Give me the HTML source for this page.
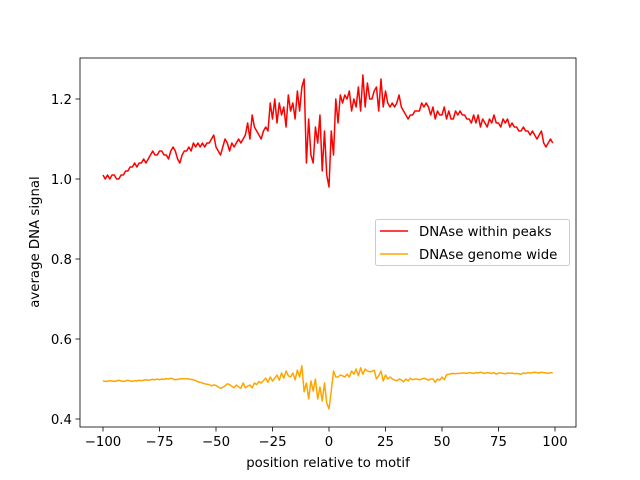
<!DOCTYPE html>
<html><head><meta charset="utf-8"><style>body{margin:0;background:#fff}svg{display:block;font-family:"DejaVu Sans","Liberation Sans",sans-serif}</style></head>
<body>
<svg id="chart" width="640" height="480">
<rect width="640" height="480" fill="#fff"/>
<g id="plot"></g>
</svg>
<script>
const xStart = -100;
const redVals = [1.01,1.00,1.01,1.00,1.01,1.01,1.00,1.00,1.01,1.01,
1.02,1.02,1.03,1.03,1.04,1.03,1.04,1.04,1.05,1.04,
1.05,1.06,1.07,1.06,1.06,1.07,1.07,1.06,1.06,1.05,
1.07,1.08,1.07,1.05,1.04,1.06,1.07,1.07,1.08,1.07,
1.09,1.08,1.09,1.08,1.09,1.08,1.09,1.09,1.10,1.11,
1.08,1.07,1.06,1.08,1.10,1.09,1.07,1.09,1.08,1.09,
1.10,1.09,1.10,1.11,1.14,1.10,1.16,1.13,1.12,1.11,
1.10,1.12,1.13,1.12,1.19,1.15,1.20,1.14,1.19,1.16,
1.18,1.13,1.21,1.17,1.19,1.15,1.22,1.17,1.23,1.25,
1.04,1.15,1.06,1.04,1.13,1.09,1.16,1.02,1.12,1.01,
0.98,1.12,1.06,1.20,1.14,1.21,1.19,1.21,1.20,1.22,
1.17,1.20,1.18,1.23,1.17,1.26,1.18,1.24,1.20,1.20,
1.22,1.23,1.17,1.25,1.18,1.22,1.19,1.18,1.19,1.18,
1.19,1.21,1.18,1.17,1.16,1.15,1.16,1.16,1.17,1.17,
1.17,1.19,1.18,1.19,1.18,1.16,1.18,1.15,1.17,1.16,
1.16,1.18,1.15,1.17,1.15,1.15,1.17,1.16,1.17,1.16,
1.16,1.15,1.15,1.14,1.16,1.14,1.16,1.13,1.15,1.14,
1.13,1.15,1.14,1.16,1.14,1.14,1.13,1.15,1.14,1.15,
1.13,1.14,1.13,1.13,1.12,1.12,1.13,1.12,1.12,1.11,
1.12,1.11,1.10,1.11,1.12,1.09,1.08,1.09,1.10,1.09];
const orangeVals = [.495,.494,.494,.496,.495,.494,.495,.497,.495,.494,
.495,.497,.495,.494,.496,.495,.497,.496,.497,.498,
.497,.498,.499,.498,.500,.498,.500,.499,.501,.500,
.502,.500,.498,.499,.500,.501,.500,.501,.500,.499,
.498,.496,.493,.492,.490,.488,.487,.486,.483,.485,
.484,.480,.477,.479,.483,.488,.486,.482,.478,.485,
.480,.477,.490,.478,.482,.485,.478,.490,.486,.494,
.490,.496,.502,.492,.505,.495,.502,.510,.497,.515,
.502,.520,.508,.505,.515,.498,.522,.505,.533,.468,
.490,.450,.495,.470,.500,.450,.480,.445,.490,.440,
.425,.470,.520,.505,.505,.510,.508,.505,.512,.505,
.520,.512,.525,.508,.528,.512,.525,.520,.518,.519,
.522,.500,.508,.520,.495,.510,.500,.505,.500,.498,
.495,.500,.498,.493,.500,.495,.502,.498,.500,.500,
.498,.500,.502,.500,.497,.500,.500,.492,.500,.497,
.505,.498,.510,.512,.513,.514,.513,.514,.514,.515,
.515,.514,.516,.515,.514,.516,.515,.517,.515,.514,
.516,.515,.514,.516,.512,.515,.515,.514,.513,.515,
.514,.515,.513,.514,.513,.512,.515,.514,.516,.515,
.516,.517,.516,.515,.517,.516,.515,.514,.516,.515];
const xTicks = [-100,-75,-50,-25,0,25,50,75,100];
const yTicks = [0.4,0.6,0.8,1.0,1.2];
const seriesNames = ["DNAse within peaks","DNAse genome wide"];

const L=80,R=576,T=58,B=427;
const FS=13.3;
const sx = v => 103 + (v+100)*(555-103)/200;
const sy = v => 99 + (1.2-v)*400;
const NS="http://www.w3.org/2000/svg";
const g=document.getElementById('plot');
function mk(tag,attrs,parent){const e=document.createElementNS(NS,tag);for(const k in attrs)e.setAttribute(k,attrs[k]);(parent||g).appendChild(e);return e;}

function line(vals,color,name){
  const pts=vals.map((v,i)=>sx(xStart+i).toFixed(2)+','+sy(v).toFixed(2)).join(' ');
  const p=mk('polyline',{points:pts,fill:'none',stroke:color,'stroke-width':1.5,'stroke-linejoin':'round'});
  
  
}
line(redVals,'#ff0000','series-dnase-within-peaks');
line(orangeVals,'#ffa500','series-dnase-genome-wide');

const frame=mk('rect',{x:L,y:T,width:R-L,height:B-T,fill:'none',stroke:'#000','stroke-width':0.8});



xTicks.forEach(t=>{
  const x=sx(t);
  mk('line',{x1:x,x2:x,y1:B,y2:B+4.5,stroke:'#000','stroke-width':0.8});
  const tx=mk('text',{x:x,y:B+19,'text-anchor':'middle','font-size':FS});
  tx.textContent=(t<0?'\u2212'+(-t):t);
  
  
});
yTicks.forEach(t=>{
  const y=sy(t);
  mk('line',{x1:L,x2:L-4.5,y1:y,y2:y,stroke:'#000','stroke-width':0.8});
  const tx=mk('text',{x:L-8,y:y+5,'text-anchor':'end','font-size':FS});
  tx.textContent=t.toFixed(1);
  
  
});
const xl=mk('text',{x:(L+R)/2,y:467,'text-anchor':'middle','font-size':FS});
xl.textContent='position relative to motif';


const yl=mk('text',{x:0,y:0,'text-anchor':'middle','font-size':FS,transform:'translate(39,242) rotate(-90)'});
yl.textContent='average DNA signal';



const lg=mk('g',{});


mk('rect',{x:375.5,y:219.5,width:194,height:46,rx:2,fill:'#fff','fill-opacity':0.8,stroke:'#ccc'},lg);
[['#ff0000',231],['#ffa500',254]].forEach((c,i)=>{
  const e=mk('g',{},lg);
  
  
  mk('line',{x1:380,x2:408,y1:c[1],y2:c[1],stroke:c[0],'stroke-width':1.5},e);
  const t=mk('text',{x:419,y:c[1]+5,'font-size':FS},e);
  t.textContent=seriesNames[i];
});
</script>
</body></html>
